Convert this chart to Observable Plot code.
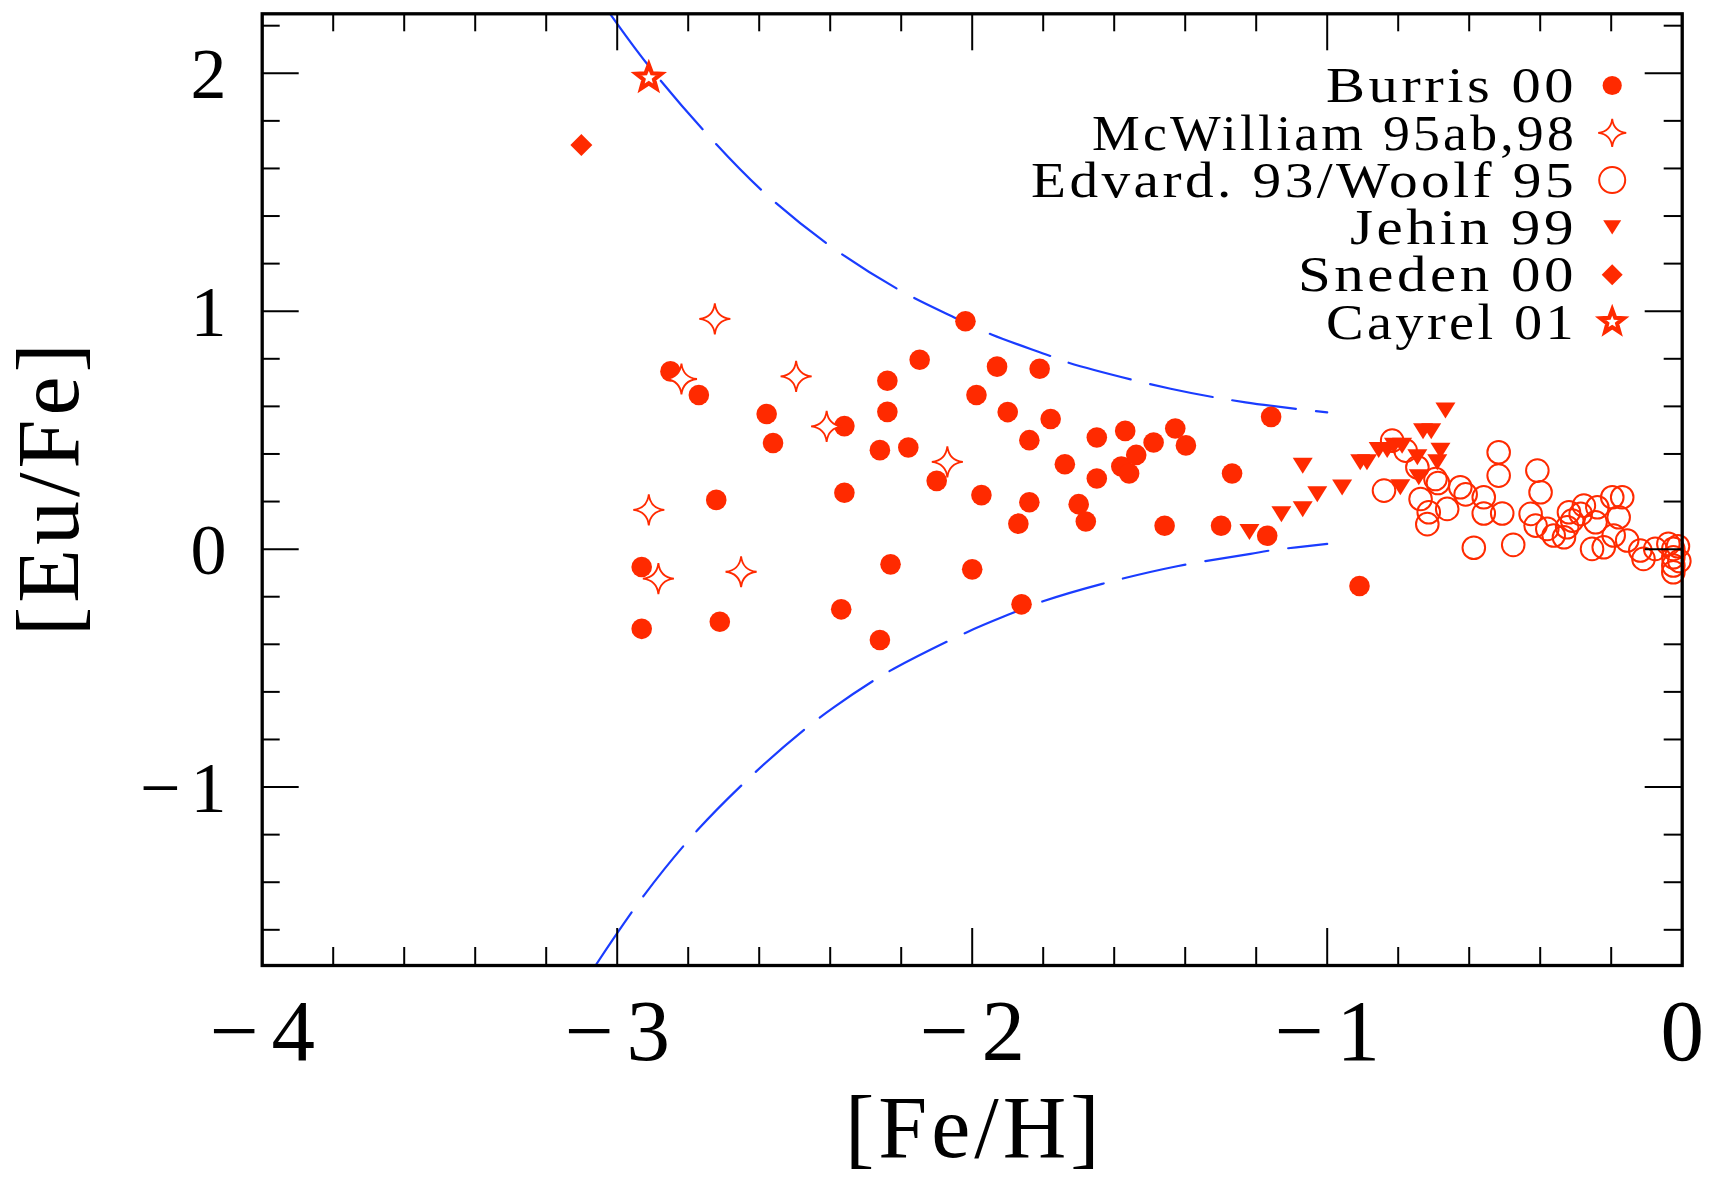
<!DOCTYPE html>
<html>
<head>
<meta charset="utf-8">
<script src="https://cdn.jsdelivr.net/npm/d3@7"></script>
<script src="https://cdn.jsdelivr.net/npm/@observablehq/plot@0.6"></script>
<style>
  html, body { margin: 0; padding: 0; background: #fff; }
  svg { display: block; }
</style>
</head>
<body>
<div id="chart"></div>
<script>
// ---------------- data ([Fe/H], [Eu/Fe]) ----------------
const burris = [
  [-2.931,-0.075],[-2.931,-0.335],[-2.850,0.747],[-2.770,0.648],[-2.721,0.207],[-2.711,-0.305],
  [-2.579,0.568],[-2.561,0.446],[-2.369,-0.253],[-2.360,0.517],[-2.360,0.237],[-2.260,0.416],
  [-2.260,-0.382],[-2.239,0.708],[-2.239,0.577],[-2.230,-0.064],[-2.180,0.427],[-2.148,0.796],
  [-2.100,0.287],[-2.019,0.958],[-2.000,-0.085],[-1.988,0.648],[-1.974,0.227],[-1.930,0.767],
  [-1.900,0.576],[-1.870,0.107],[-1.861,-0.232],[-1.839,0.458],[-1.839,0.197],[-1.810,0.758],
  [-1.779,0.547],[-1.739,0.357],[-1.700,0.189],[-1.680,0.116],[-1.649,0.469],[-1.649,0.297],
  [-1.580,0.347],[-1.569,0.497],[-1.558,0.318],[-1.538,0.396],[-1.489,0.448],[-1.458,0.098],
  [-1.428,0.507],[-1.398,0.436],[-1.299,0.098],[-1.268,0.318],[-1.169,0.056],[-1.158,0.556],
  [-0.909,-0.155]
];
const mcwilliam = [
  [-2.725,0.968],[-2.819,0.715],[-2.496,0.726],[-2.410,0.516],[-2.070,0.367],
  [-2.911,0.165],[-2.884,-0.124],[-2.651,-0.095]
];
const edvardsson = [
  [-0.817,0.456],[-0.779,0.414],[-0.746,0.344],[-0.695,0.295],[-0.688,0.278],[-0.840,0.246],
  [-0.737,0.211],[-0.714,0.155],[-0.718,0.105],[-0.662,0.169],[-0.625,0.260],[-0.610,0.230],
  [-0.559,0.218],[-0.559,0.150],[-0.507,0.150],[-0.587,0.006],[-0.476,0.018],[-0.517,0.407],
  [-0.517,0.309],[-0.408,0.330],[-0.399,0.239],[-0.427,0.148],[-0.413,0.099],[-0.380,0.085],
  [-0.362,0.057],[-0.333,0.050],[-0.319,0.155],[-0.310,0.120],[-0.324,0.092],[-0.286,0.148],
  [-0.277,0.183],[-0.239,0.176],[-0.244,0.113],[-0.254,0.001],[-0.221,0.008],[-0.197,0.218],
  [-0.169,0.218],[-0.179,0.134],[-0.193,0.057],[-0.155,0.036],[-0.118,-0.006],[-0.109,-0.041],
  [-0.076,0.001],[-0.039,0.022],[-0.025,0.001],[-0.025,-0.034],[-0.025,-0.069],[-0.025,-0.097],
  [-0.012,0.012],[-0.008,-0.050]
];
const jehin = [
  [-1.219,0.072],[-1.129,0.147],[-1.069,0.168],[-1.028,0.231],[-1.069,0.350],[-0.958,0.259],
  [-0.907,0.365],[-0.888,0.365],[-0.855,0.417],[-0.831,0.417],[-0.812,0.435],[-0.789,0.435],
  [-0.794,0.260],[-0.746,0.386],[-0.742,0.302],[-0.730,0.495],[-0.707,0.495],[-0.681,0.414],
  [-0.690,0.365],[-0.667,0.583]
];
const sneden = [[-3.101,1.699]];
const cayrel = [[-2.911,1.981]];

// dashed envelope curves
const upperCurve = [
  [-3.020,2.250],[-2.916,2.040],[-2.756,1.759],[-2.592,1.507],[-2.408,1.283],[-2.211,1.094],
  [-2.052,0.975],[-1.944,0.901],[-1.784,0.814],[-1.732,0.785],[-1.441,0.674],[-1.230,0.617],
  [-1.000,0.575]
];
const lowerCurve = [
  [-3.061,-1.750],[-2.925,-1.456],[-2.775,-1.183],[-2.606,-0.931],[-2.470,-0.755],[-2.390,-0.665],
  [-2.277,-0.552],[-2.221,-0.503],[-2.019,-0.352],[-1.892,-0.272],[-1.808,-0.223],[-1.634,-0.146],
  [-1.423,-0.072],[-1.216,-0.020],[-1.162,-0.006],[-1.000,0.022]
];

const seriesNames = ["Burris 00","McWilliam 95ab,98","Edvard. 93/Woolf 95","Jehin 99","Sneden 00","Cayrel 01"];

const xMajorTicks = [-4,-3,-2,-1,0];
const xMinorTicks = [-3.8,-3.6,-3.4,-3.2,-2.8,-2.6,-2.4,-2.2,-1.8,-1.6,-1.4,-1.2,-0.8,-0.6,-0.4,-0.2];
const yMajorTicks = [-1,0,1,2];
const yMinorTicks = [-1.6,-1.4,-1.2,-0.8,-0.6,-0.4,-0.2,0.2,0.4,0.6,0.8,1.2,1.4,1.6,1.8,2.2];

const xLabel = "[Fe/H]";
const yLabel = "[Eu/Fe]";

// ---------------- style ----------------
const RED = "#ff2a00", BLUE = "#1a3cff";
const FONT = "Liberation Serif, 'Times New Roman', serif";
const W = 1709, H = 1177;
const mL = 261.7, mT = 13.3, mR = 27.3, mB = 212;
const plotH = H - mT - mB;
const plotW = W - mL - mR;
// rendered widths of the legend texts (px), to stretch the glyphs as in the original lettering
const legendTextWidths = [248, 482, 543, 224, 276, 248];

// custom symbols
const sparkle = {draw(ctx, size) {
  const r = Math.sqrt(size / Math.PI), c = 0.1 * r;
  ctx.moveTo(0, -r);
  ctx.quadraticCurveTo(c, -c, r, 0);
  ctx.quadraticCurveTo(c, c, 0, r);
  ctx.quadraticCurveTo(-c, c, -r, 0);
  ctx.quadraticCurveTo(-c, -c, 0, -r);
  ctx.closePath();
}};
function starPath(ctx, R, ri) {
  for (let k = 0; k < 10; k++) {
    const a = -Math.PI / 2 + k * Math.PI / 5;
    const rr = k % 2 ? ri : R;
    const px = rr * Math.cos(a), py = rr * Math.sin(a);
    if (k) ctx.lineTo(px, py); else ctx.moveTo(px, py);
  }
  ctx.closePath();
}
const doubleStar = {draw(ctx, size) {
  const r = Math.sqrt(size / Math.PI);
  starPath(ctx, r, r * 0.42);
  starPath(ctx, r * 0.62, r * 0.27);
}};
const triDown = {draw(ctx, size) {
  const r = Math.sqrt(size / Math.PI);
  ctx.moveTo(-r, -0.8 * r); ctx.lineTo(r, -0.8 * r); ctx.lineTo(0, 0.8 * r); ctx.closePath();
}};
const diamond = {draw(ctx, size) {
  const r = Math.sqrt(size / Math.PI);
  ctx.moveTo(0, -r); ctx.lineTo(r, 0); ctx.lineTo(0, r); ctx.lineTo(-r, 0); ctx.closePath();
}};

const seriesStyle = [
  {symbol: "circle", r: 10.3, fill: RED, stroke: "none", strokeWidth: 0},
  {symbol: sparkle, r: 15.5, fill: "white", stroke: RED, strokeWidth: 1.8},
  {symbol: "circle", r: 11.3, fill: "none", stroke: RED, strokeWidth: 2},
  {symbol: triDown, r: 10, fill: RED, stroke: "none", strokeWidth: 0},
  {symbol: diamond, r: 11, fill: RED, stroke: "none", strokeWidth: 0},
  {symbol: doubleStar, r: 16, fill: "white", stroke: RED, strokeWidth: 2.2}
];
const legendStyle = [
  {r: 9.6}, {r: 14}, {r: 13}, {r: 9}, {r: 10.5}, {r: 15}
];
const seriesData = [burris, mcwilliam, edvardsson, jehin, sneden, cayrel];

const fmt = d => d < 0 ? "\u2212" + Math.abs(d) : String(d);

const marks = [];
// envelope curves
marks.push(Plot.line(upperCurve, {x: d => d[0], y: d => d[1], stroke: BLUE, strokeWidth: 2.2, strokeDasharray: "64,20", curve: "catmull-rom"}));
marks.push(Plot.line(lowerCurve, {x: d => d[0], y: d => d[1], stroke: BLUE, strokeWidth: 2.2, strokeDasharray: "64,20", curve: "catmull-rom"}));

// data points
seriesData.forEach((data, i) => {
  const s = seriesStyle[i];
  marks.push(Plot.dot(data, {x: d => d[0], y: d => d[1], symbol: s.symbol, r: s.r, fill: s.fill, stroke: s.stroke, strokeWidth: s.strokeWidth}));
});

// ticks (inward, all four sides)
const tk = {stroke: "black", strokeWidth: 2};
marks.push(Plot.ruleX(xMinorTicks, {x: d => d, insetBottom: plotH - 18, ...tk}));
marks.push(Plot.ruleX(xMinorTicks, {x: d => d, insetTop: plotH - 18, ...tk}));
marks.push(Plot.ruleX(xMajorTicks, {x: d => d, insetBottom: plotH - 37, ...tk}));
marks.push(Plot.ruleX(xMajorTicks, {x: d => d, insetTop: plotH - 37, ...tk}));
marks.push(Plot.ruleY(yMinorTicks, {y: d => d, insetRight: plotW - 18, ...tk}));
marks.push(Plot.ruleY(yMinorTicks, {y: d => d, insetLeft: plotW - 18, ...tk}));
marks.push(Plot.ruleY(yMajorTicks, {y: d => d, insetRight: plotW - 37, ...tk}));
marks.push(Plot.ruleY(yMajorTicks, {y: d => d, insetLeft: plotW - 37, ...tk}));

// tick labels
const XLS = 13, YLS = 10, TLS = 4, LLS = 3;
marks.push(Plot.text(xMajorTicks, {x: d => d, text: fmt, frameAnchor: "bottom", dy: 94.4,
  lineAnchor: "bottom", textAnchor: "middle", fontSize: 87, fill: "black"}));
marks.push(Plot.text(yMajorTicks, {y: d => d, text: fmt, frameAnchor: "left", dx: -35.7, dy: 24.5,
  lineAnchor: "bottom", textAnchor: "end", fontSize: 72, fill: "black"}));

// axis titles
marks.push(Plot.text([xLabel], {text: d => d, frameAnchor: "bottom", dy: 191, dx: TLS / 2,
  lineAnchor: "bottom", textAnchor: "middle", fontSize: 88, fill: "black"}));
marks.push(Plot.text([yLabel], {text: d => d, frameAnchor: "left", dx: -184.7, dy: -TLS / 2, rotate: -90,
  lineAnchor: "bottom", textAnchor: "middle", fontSize: 88, fill: "black"}));

// legend (inside the frame, top-right)
seriesNames.forEach((name, i) => {
  const s = seriesStyle[i];
  const rowDy = 71.7 + i * 47.3;
  marks.push(Plot.dot([name], {frameAnchor: "top-right", dx: -70, dy: rowDy, symbol: s.symbol,
    r: legendStyle[i].r, fill: s.fill, stroke: s.stroke, strokeWidth: s.strokeWidth}));
  marks.push(Plot.text([name], {text: d => d, frameAnchor: "top-right", dx: -108.2 + LLS, dy: rowDy + 16.7,
    lineAnchor: "bottom", textAnchor: "end", fontSize: 50, fill: "black"}));
});

marks.push(Plot.frame({stroke: "black", strokeWidth: 3.3}));

const chart = Plot.plot({
  width: W, height: H,
  marginLeft: mL, marginTop: mT, marginRight: mR, marginBottom: mB,
  x: {domain: [-4, 0], axis: null},
  y: {domain: [-1.75, 2.25], axis: null},
  style: {background: "white", fontFamily: FONT, overflow: "visible"},
  marks
});
document.getElementById("chart").appendChild(chart);

// lettering adjustments by text role
d3.select(chart).selectAll("text").each(function () {
  let el = this, fs = null;
  while (el && el !== chart && fs === null) { fs = el.getAttribute && el.getAttribute("font-size"); el = el.parentNode; }
  const t = this.textContent;
  const li = seriesNames.indexOf(t);
  if (li >= 0) {
    this.setAttribute("letter-spacing", LLS);
    this.setAttribute("textLength", legendTextWidths[li] + LLS);
    this.setAttribute("lengthAdjust", "spacingAndGlyphs");
  } else if (t === xLabel || t === yLabel) {
    this.setAttribute("letter-spacing", TLS);
  } else if (t.startsWith("\u2212")) {
    if (String(fs).startsWith("87")) { this.setAttribute("letter-spacing", XLS); this.setAttribute("dx", XLS / 2); }
    else if (String(fs).startsWith("72")) { this.setAttribute("letter-spacing", YLS); this.setAttribute("dx", YLS); }
  }
});
</script>
</body>
</html>
